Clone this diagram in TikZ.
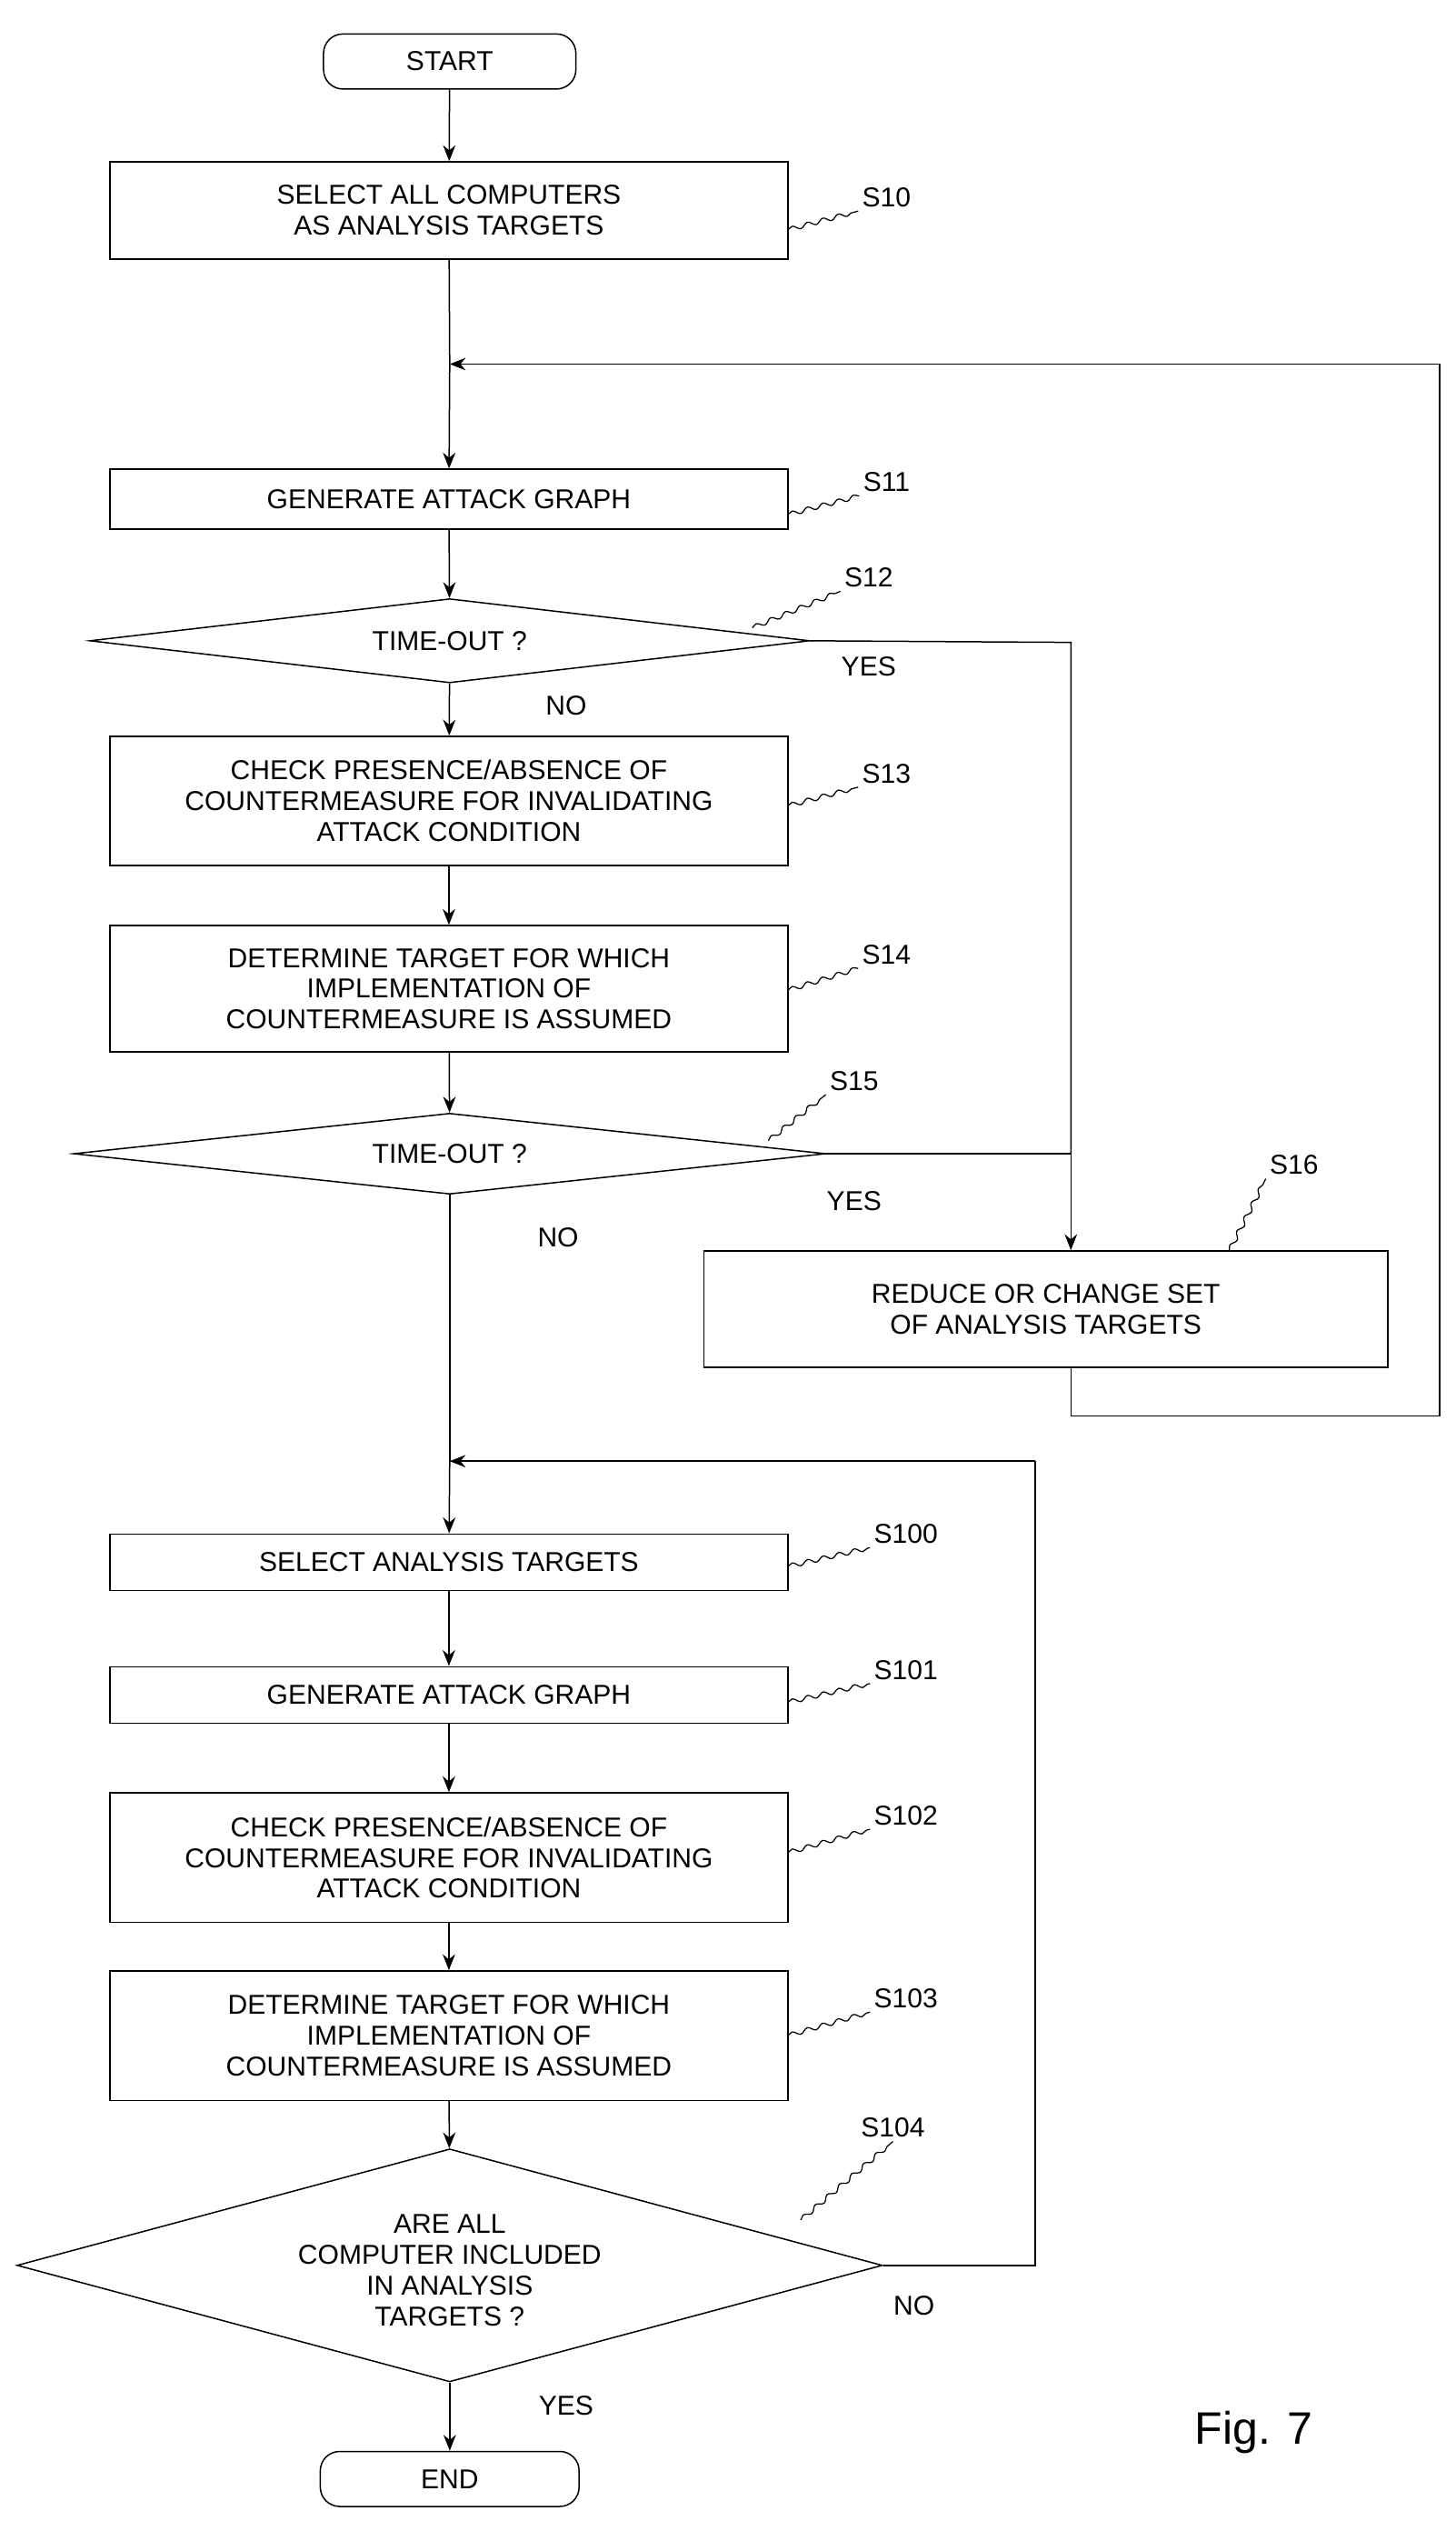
\documentclass[tikz,border=0pt]{standalone}
\usepackage{fontspec}
\setmainfont{Liberation Sans}
\usetikzlibrary{shapes.geometric,arrows.meta,decorations.pathmorphing}
\begin{document}
\begin{tikzpicture}[x=0.05cm,y=-0.05cm,
 every node/.style={font=\fontsize{24}{27}\selectfont},
 box/.style={draw,line width=1.2pt,minimum width=20.95cm,align=center,inner sep=0pt},
 dia/.style={draw,line width=1.2pt,diamond,aspect=#1,inner sep=0pt,align=center},
 term/.style={draw,line width=1.2pt,rounded rectangle,minimum width=7.8cm,minimum height=1.7cm},
 ln/.style={line width=1.2pt},
 ar/.style={line width=1.2pt,-{Stealth[length=14pt,width=11pt]}},
 sq/.style={line width=1pt,decorate,decoration={snake,amplitude=2pt,segment length=14pt}},
 lab/.style={font=\fontsize{24}{27}\selectfont}]
\useasboundingbox (0,0) rectangle (900,1558);
\node[draw,line width=1.2pt,rounded corners=17pt,minimum width=7.8cm,minimum height=1.7cm] (start) at (278,38) {START};
\node[box,minimum height=3cm] (s10) at (277.5,130) {SELECT ALL COMPUTERS\\AS ANALYSIS TARGETS};
\node[box,minimum height=1.85cm] (s11) at (277.5,308.5) {GENERATE ATTACK GRAPH};
\node[draw,line width=1.2pt,diamond,aspect=8.5,minimum width=22.25cm,minimum height=2.6cm,inner sep=0pt] (s12) at (278,396) {};
\node at (278,396) {TIME-OUT ?};
\node[box,minimum height=4cm] (s13) at (277.5,495) {CHECK PRESENCE/ABSENCE OF\\COUNTERMEASURE FOR INVALIDATING\\ATTACK CONDITION};
\node[box,minimum height=3.9cm] (s14) at (277.5,611) {DETERMINE TARGET FOR WHICH\\IMPLEMENTATION OF\\COUNTERMEASURE IS ASSUMED};
\node[draw,line width=1.2pt,diamond,aspect=9,minimum width=23.25cm,minimum height=2.5cm,inner sep=0pt] (s15) at (278,713) {};
\node at (278,713) {TIME-OUT ?};
\node[draw,line width=1.2pt,minimum width=21.15cm,minimum height=3.6cm,align=center,inner sep=0pt] (s16) at (646.5,809) {REDUCE OR CHANGE SET\\OF ANALYSIS TARGETS};
\node[box,minimum height=1.75cm] (s100) at (277.5,965.5) {SELECT ANALYSIS TARGETS};
\node[box,minimum height=1.75cm] (s101) at (277.5,1047.5) {GENERATE ATTACK GRAPH};
\node[box,minimum height=4cm] (s102) at (277.5,1148) {CHECK PRESENCE/ABSENCE OF\\COUNTERMEASURE FOR INVALIDATING\\ATTACK CONDITION};
\node[box,minimum height=4cm] (s103) at (277.5,1258) {DETERMINE TARGET FOR WHICH\\IMPLEMENTATION OF\\COUNTERMEASURE IS ASSUMED};
\node[draw,line width=1.2pt,diamond,aspect=3.7,minimum width=26.75cm,minimum height=7.2cm,inner sep=0pt] (s104) at (278,1400) {};
\node[align=center] at (278,1403) {ARE ALL\\COMPUTER INCLUDED\\IN ANALYSIS\\TARGETS ?};
\node[draw,line width=1.2pt,rounded corners=17pt,minimum width=8cm,minimum height=1.7cm] (end) at (278,1532) {END};
% coordinates
\coordinate (j1) at (278,225);
\coordinate (r1) at (890,225);
\coordinate (r2) at (890,875);
\coordinate (b16) at (662,875);
\coordinate (c12) at (662,397);
\coordinate (c15) at (662,713);
\coordinate (j2) at (278,903);
\coordinate (l1) at (640,903);
\coordinate (l2) at (640,1400);
% flow
\draw[ar] (start) -- (s10);
\draw[ln] (s10) -- (j1);
\draw[ar] (j1) -- (s11);
\draw[ar] (s11) -- (s12);
\draw[ar] (s12) -- (s13);
\draw[ar] (s13) -- (s14);
\draw[ar] (s14) -- (s15);
\draw[ln] (s15) -- (j2);
\draw[ar] (j2) -- (s100);
\draw[ar] (s100) -- (s101);
\draw[ar] (s101) -- (s102);
\draw[ar] (s102) -- (s103);
\draw[ar] (s103) -- (s104);
\draw[ar] (s104) -- (end);
\draw[ln] (s12.east) -- (c12) -- (c15);
\draw[ar] (c15) -- (s16.north -| c15);
\draw[ln] (s15.east) -- (c15);
\draw[ln] (s16.south -| b16) -- (b16) -- (r2) -- (r1);
\draw[ar] (r1) -- (j1);
\draw[ln] (s104.east) -- (l2) -- (l1);
\draw[ar] (l1) -- (j2);
% labels
\node (ls10) at (548,122) {S10};
\node (ls11) at (548,298) {S11};
\node (ls12) at (537,357) {S12};
\node (ls13) at (548,478) {S13};
\node (ls14) at (548,590) {S14};
\node (ls15) at (528,668) {S15};
\node (ls16) at (800,720) {S16};
\node (ls100) at (560,948) {S100};
\node (ls101) at (560,1032) {S101};
\node (ls102) at (560,1122) {S102};
\node (ls103) at (560,1235) {S103};
\node (ls104) at (552,1315) {S104};
\draw[sq] (487,142) -- (ls10.south west);
\draw[sq] (487,318) -- (ls11.south west);
\draw[sq] (465,388) -- (ls12.south west);
\draw[sq] (487,498) -- (ls13.south west);
\draw[sq] (487,612) -- (ls14.south west);
\draw[sq] (475,705) -- (ls15.south west);
\draw[sq] (760,773) -- (ls16.south west);
\draw[sq] (487,968) -- (ls100.south west);
\draw[sq] (487,1052) -- (ls101.south west);
\draw[sq] (487,1145) -- (ls102.south west);
\draw[sq] (487,1258) -- (ls103.south west);
\draw[sq] (495,1372) -- (ls104.south);
\node at (537,412) {YES};
\node at (350,436) {NO};
\node at (528,742) {YES};
\node at (345,765) {NO};
\node at (565,1425) {NO};
\node at (350,1487) {YES};
\node[font=\fontsize{40}{44}\selectfont] at (775,1503) {Fig. 7};
\end{tikzpicture}
\end{document}
